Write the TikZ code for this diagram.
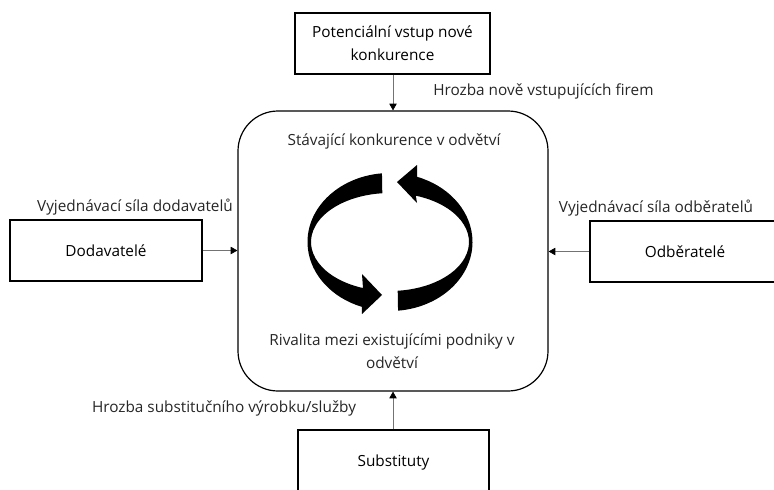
\documentclass[tikz,border=0pt]{standalone}
\usepackage{fontspec}
\setmainfont{Open Sans}
\usetikzlibrary{arrows.meta,calc}

\tikzset{
  box/.style={draw=black, line width=0.9pt, align=center, inner sep=0pt},
  core/.style={draw=black, line width=0.9pt, rounded corners=30pt, inner sep=0pt},
  lbl/.style={text=black!85, inner sep=0pt, align=center},
  conn/.style={draw=black!55, line width=0.5pt,
    -{Triangle[length=5pt,width=5.5pt,color=black]}},
  ribbon/.style={fill=black, draw=none},
}

\begin{document}
\begin{tikzpicture}[x=0.75pt, y=-0.75pt,
  font=\fontsize{11.5}{17}\selectfont]
  \useasboundingbox (0,0) rectangle (774,489);
  \clip (0,0) rectangle (774,489);

  % outer boxes of the five forces
  \node[box, minimum width=195*0.75pt, minimum height=61*0.75pt]
    (entry) at (392.5,43.5) {Potenciální vstup nové\\konkurence};
  \node[box, minimum width=192*0.75pt, minimum height=61*0.75pt]
    (supp) at (106,250.5) {Dodavatelé};
  \node[box, minimum width=190*0.75pt, minimum height=61*0.75pt]
    (buy) at (685,251.5) {Odběratelé};
  \node[box, minimum width=191*0.75pt, minimum height=66*0.75pt]
    (subs) at (393.5,463) {Substituty};

  % central rounded box
  \node[core, minimum width=310*0.75pt, minimum height=280*0.75pt]
    (ind) at (393,251) {};
  \node[lbl] (indtop) at (394,141) {Stávající konkurence v odvětví};
  \node[lbl] (indbot) at (392,351) {Rivalita mezi existujícími podniky v\\odvětví};

  % connector labels
  \node[lbl, anchor=west] (lentry) at (433,91) {Hrozba nově vstupujících firem};
  \node[lbl] (lsupp) at (135,207) {Vyjednávací síla dodavatelů};
  \node[lbl] (lbuy) at (656,208) {Vyjednávací síla odběratelů};
  \node[lbl] (lsubs) at (224,408) {Hrozba substitučního výrobku/služby};

  % connectors
  \draw[conn] (entry.south -| ind.north) -- (ind.north);
  \draw[conn] (supp.east) -- (supp.east -| ind.west);
  \draw[conn] (buy.west) -- (buy.west -| ind.east);
  \draw[conn] (subs.north -| ind.south) -- (ind.south);

  % rivalry cycle: two curved ribbon arrows
  \coordinate (cyc) at (390,242);
  \fill[ribbon]
    ($(cyc)+(264.4:82.5 and 69)$)
    arc[start angle=264.4, end angle=110, x radius=82.5, y radius=69]
    -- (362,314) -- (382,295) -- (362,274)
    -- ($(cyc)+(110:79 and 49)$)
    arc[start angle=110, end angle=264.4, x radius=79, y radius=49]
    -- cycle;
  \fill[ribbon]
    ($(cyc)+(84.4:82.5 and 69)$)
    arc[start angle=84.4, end angle=-70.9, x radius=82.5, y radius=69]
    -- (417,165) -- (397,182) -- (417,203)
    -- ($(cyc)+(-70.9:79 and 49)$)
    arc[start angle=-70.9, end angle=84.4, x radius=79, y radius=49]
    -- cycle;
\end{tikzpicture}
\end{document}
